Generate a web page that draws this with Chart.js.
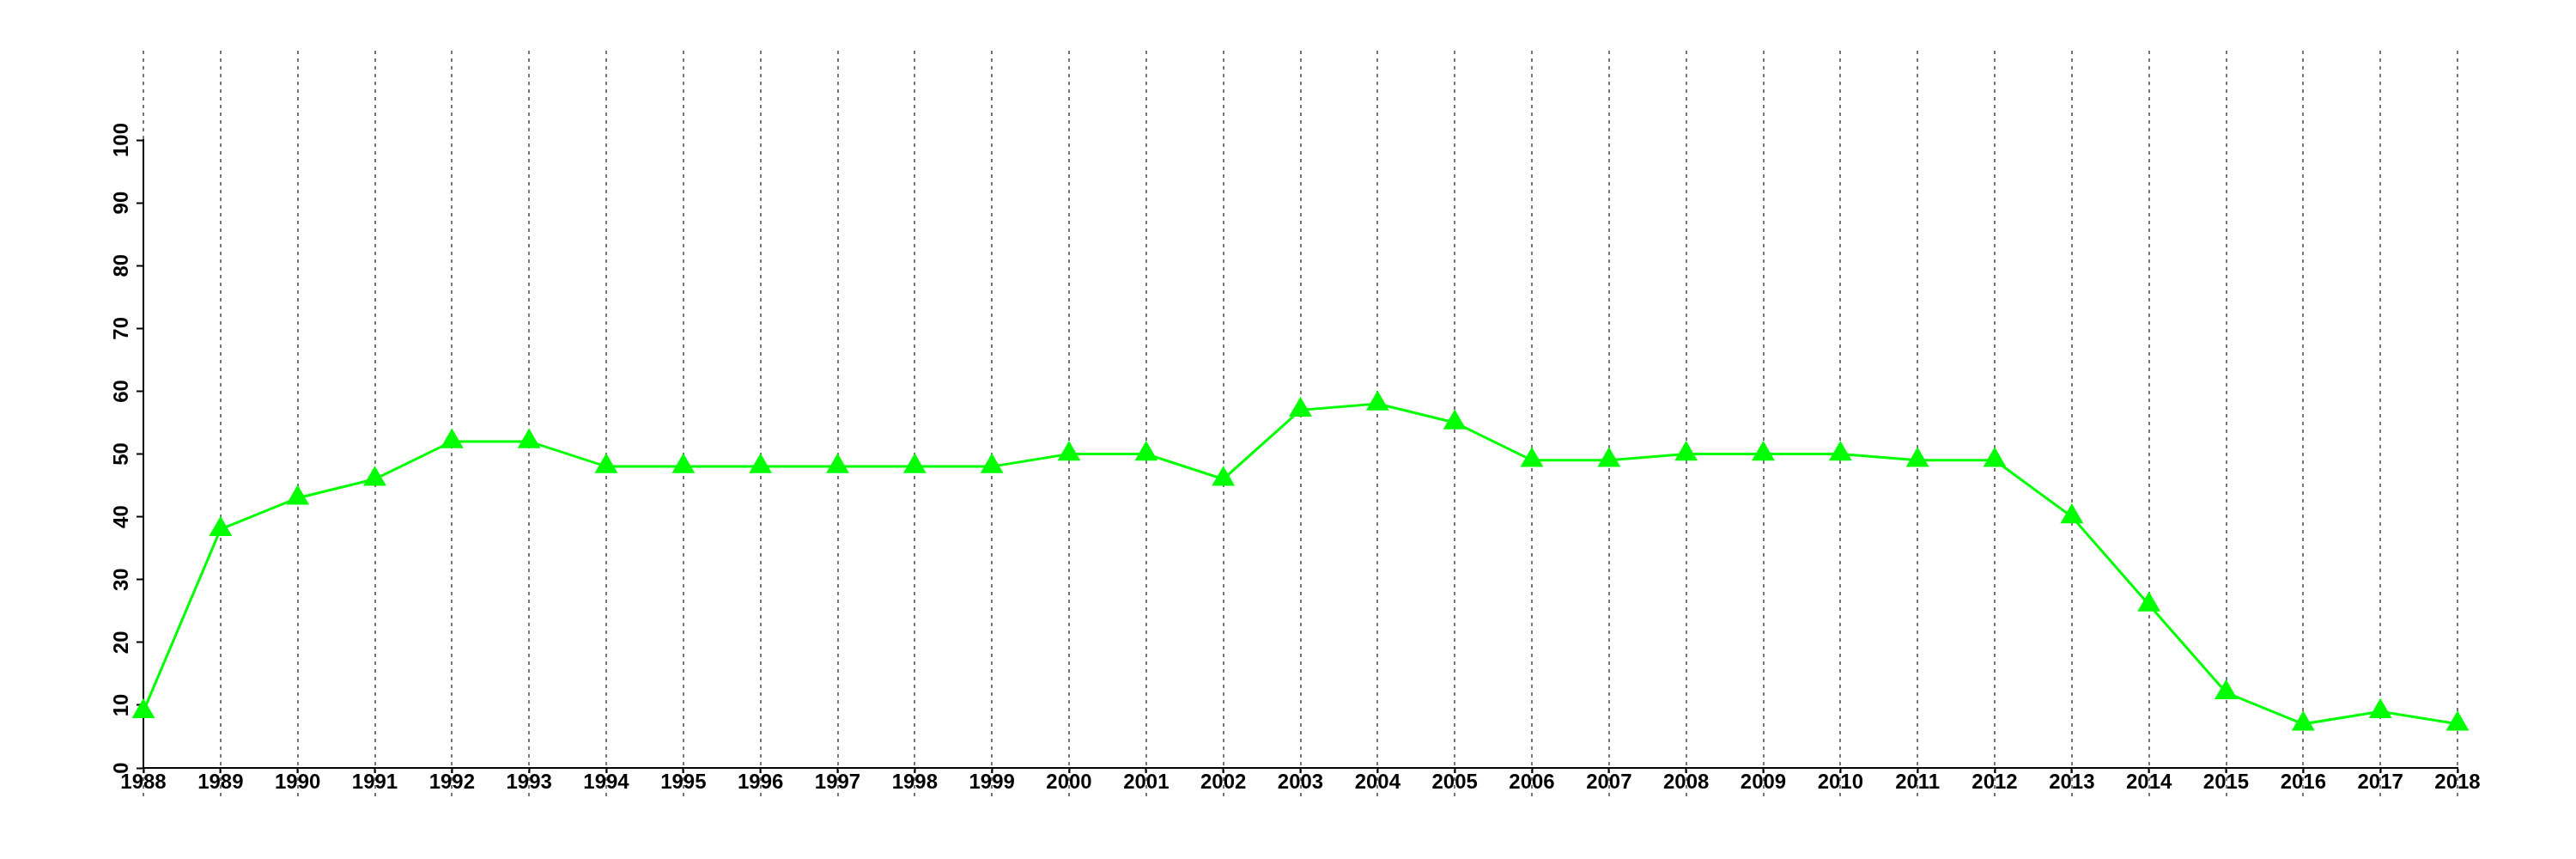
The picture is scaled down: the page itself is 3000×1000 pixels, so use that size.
<!DOCTYPE html>
<html>
<head>
<meta charset="utf-8">
<script src="https://cdn.jsdelivr.net/npm/chart.js@4/dist/chart.umd.min.js"></script>
<style>
  html, body { margin: 0; padding: 0; background: #fff; }
  #wrap { width: 3000px; height: 1000px; }
</style>
</head>
<body>
<div id="wrap"><canvas id="graphCanvas" width="3000" height="1000"></canvas></div>
<script>
var years = ['1988','1989','1990','1991','1992','1993','1994','1995','1996','1997','1998',
             '1999','2000','2001','2002','2003','2004','2005','2006','2007','2008','2009',
             '2010','2011','2012','2013','2014','2015','2016','2017','2018'];
var values = [9, 38, 43, 46, 52, 52, 48, 48, 48, 48, 48,
              48, 50, 50, 46, 57, 58, 55, 49, 49, 50, 50,
              50, 49, 49, 40, 26, 12, 7, 9, 7];
var yTicks = [0, 10, 20, 30, 40, 50, 60, 70, 80, 90, 100];

// dotted vertical lines at every year, running past the plot area like the original
// drawn before the scales so the black axis lines sit on top
var dottedGrid = {
    id: 'dottedGrid',
    beforeDraw: function(chart) {
        var ctx = chart.ctx;
        var xs = chart.scales.x;
        ctx.save();
        ctx.strokeStyle = '#777777';
        ctx.lineWidth = 2;
        ctx.setLineDash([4, 5]);
        for (var i = 0; i < years.length; i++) {
            var px = Math.round(xs.getPixelForValue(i));
            ctx.beginPath();
            ctx.moveTo(px, 59);
            ctx.lineTo(px, 927);
            ctx.stroke();
        }
        ctx.restore();
    }
};

var chartdata = {
    labels: years,
    datasets: [
        {
            label: 'values',
            data: values,
            borderColor: '#00ff00',
            backgroundColor: '#00ff00',
            borderWidth: 3,
            pointStyle: 'triangle',
            pointRadius: 15.5,
            pointHoverRadius: 15.5,
            pointBorderWidth: 0,
            tension: 0
        }
    ]
};

var barGraph = new Chart(document.getElementById('graphCanvas'), {
    type: 'line',
    data: chartdata,
    plugins: [dottedGrid],
    options: {
        responsive: false,
        animation: false,
        layout: { padding: { left: 0, top: 163, right: 138, bottom: 0 } },
        plugins: {
            legend: { display: false },
            tooltip: { enabled: false }
        },
        scales: {
            x: {
                type: 'category',
                offset: false,
                grid: { drawOnChartArea: false, color: '#000', tickLength: 6, tickWidth: 2 },
                border: { display: true, color: '#000', width: 2 },
                ticks: {
                    color: '#000',
                    font: { family: 'Liberation Sans', size: 24, weight: 'bold' },
                    padding: -3,
                    autoSkip: false,
                    maxRotation: 0,
                    minRotation: 0
                },
                afterFit: function(scale) { scale.height = 106; }
            },
            y: {
                min: 0,
                max: 100,
                grid: { drawOnChartArea: false, color: '#000', tickLength: 8, tickWidth: 2 },
                border: { display: true, color: '#000', width: 2 },
                afterBuildTicks: function(scale) {
                    scale.ticks = yTicks.map(function(v) { return { value: v }; });
                },
                ticks: {
                    color: '#000',
                    font: { family: 'Liberation Sans', size: 24, weight: 'bold' },
                    minRotation: 90,
                    maxRotation: 90,
                    crossAlign: 'center',
                    padding: -3
                },
                afterFit: function(scale) { scale.width = 167; }
            }
        }
    }
});
</script>
</body>
</html>
